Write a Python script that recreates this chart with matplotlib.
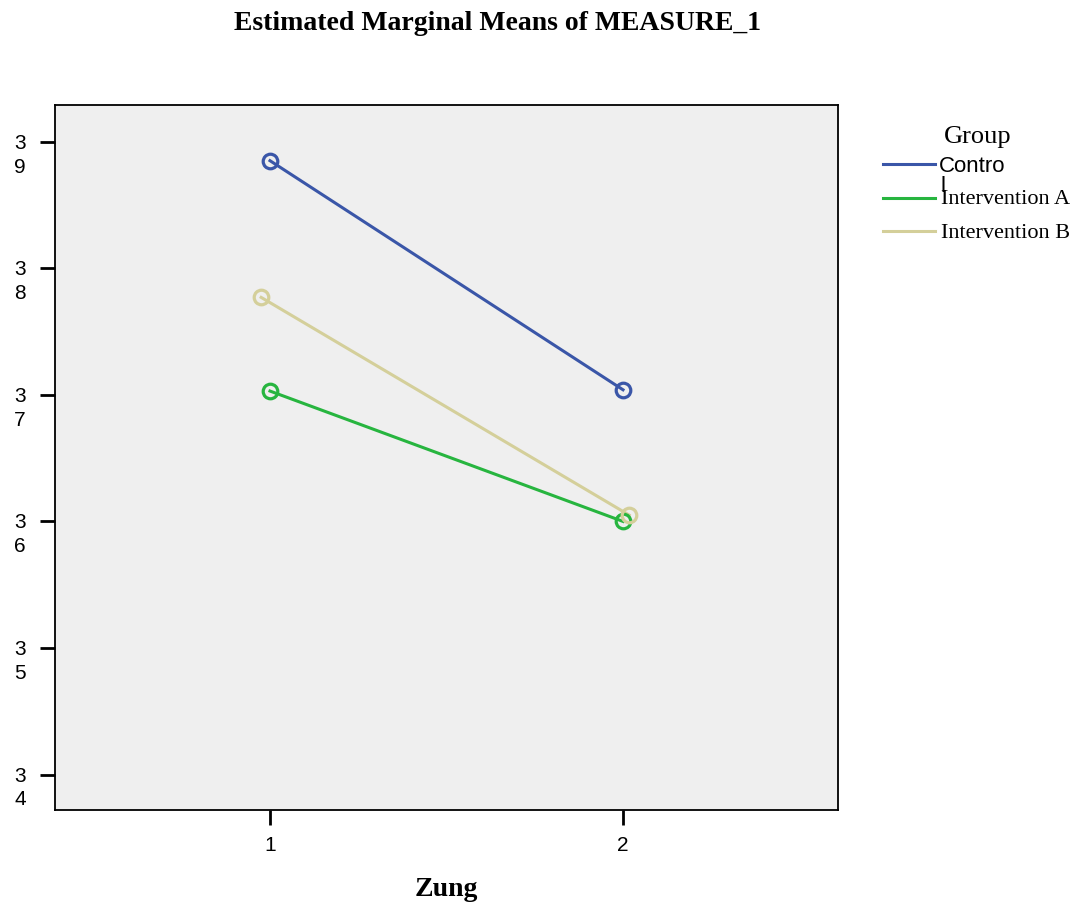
import matplotlib
matplotlib.use('Agg')
import matplotlib.pyplot as plt
from matplotlib.lines import Line2D

# estimated marginal means
zung = [1, 2]
groups = ['Control', 'Intervention A', 'Intervention B']
control = [38.85, 37.04]
int_a = [37.03, 36.00]
int_b = [37.77, 36.05]
y_ticks = [34, 35, 36, 37, 38, 39]

colors = ['#3a56a8', '#27b53f', '#d4cf9a']
# small horizontal dodge used by the original for the third group
dodge = [0.0, 0.0, -0.025]

serif = 'Liberation Serif'
sans = 'Liberation Sans'

fig = plt.figure(figsize=(10.76, 9.05), dpi=100)
ax = fig.add_axes([55 / 1076, 1 - 810 / 905, (838 - 55) / 1076, (810 - 105) / 905])
ax.set_facecolor('#efefef')

series = [control, int_a, int_b]
for vals, col, d in zip(series, colors, dodge):
    xs = [zung[0] + d, zung[1] - d * 0.7]
    ax.plot(xs, vals, color=col, lw=2.2, zorder=2)
    ax.plot(xs, vals, 'o', mfc='none', mec=col, mew=2.3, ms=10.5, zorder=3)

ax.set_xlim(0.391, 2.609)
ax.set_ylim(33.72, 39.29)
ax.set_xticks(zung)
ax.set_xticklabels([str(z) for z in zung], fontfamily=sans, fontsize=15)
ax.set_yticks(y_ticks)
ax.set_yticklabels([])
ax.tick_params(axis='both', direction='out', length=11, width=2, color='black')
ax.tick_params(axis='x', pad=8)
for s in ax.spines.values():
    s.set_linewidth(1.3)

# split tick labels like the original ("3" over "9")
for t in y_ticks:
    s = str(t)
    ax.annotate(s[0] + '\n' + s[1], xy=(0, t), xycoords=('axes fraction', 'data'),
                xytext=(-35, 8), textcoords='offset pixels', ha='center', va='top',
                fontfamily=sans, fontsize=15, linespacing=1.32)

fig.text(497 / 1076, 1 - 23 / 905, 'Estimated Marginal Means of MEASURE_1',
         ha='center', va='center', fontfamily=serif, fontweight='bold', fontsize=20)
fig.text(446 / 1076, 1 - 889 / 905, 'Zung', ha='center', va='center',
         fontfamily=serif, fontweight='bold', fontsize=20)

# legend drawn by hand
fig.text(978 / 1076, 1 - 137 / 905, 'Group', ha='center', va='center',
         fontfamily=serif, fontsize=19)
leg_y = [164, 198, 231]
for y, col in zip(leg_y, colors):
    fig.add_artist(Line2D([883 / 1076, 935 / 1076], [1 - y / 905, 1 - y / 905],
                          color=col, lw=2.2, transform=fig.transFigure))
fig.text(939 / 1076, 1 - 167 / 905, 'Contro', ha='left', va='center',
         fontfamily=sans, fontsize=16)
fig.text(940 / 1076, 1 - 187 / 905, 'l', ha='left', va='center',
         fontfamily=sans, fontsize=16)
fig.text(941 / 1076, 1 - 200 / 905, groups[1], ha='left', va='center',
         fontfamily=serif, fontsize=16)
fig.text(941 / 1076, 1 - 233 / 905, groups[2], ha='left', va='center',
         fontfamily=serif, fontsize=16)

fig.savefig('out.png', dpi=100)
